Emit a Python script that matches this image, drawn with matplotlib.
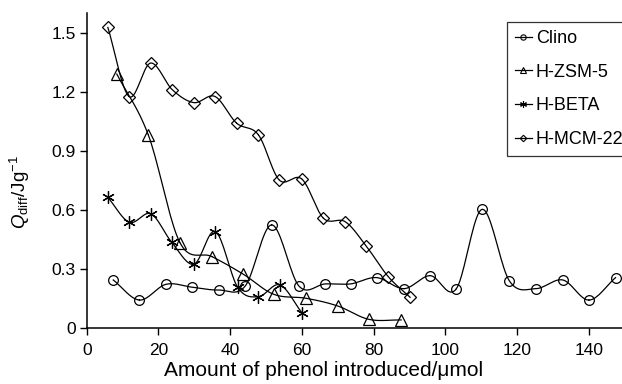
import numpy as np
import matplotlib
matplotlib.use('Agg')
import matplotlib.pyplot as plt

plt.rcParams['font.family'] = ['Liberation Sans', 'DejaVu Sans']
plt.rcParams['mathtext.fontset'] = 'custom'
plt.rcParams['mathtext.rm'] = 'Liberation Sans'
plt.rcParams['mathtext.it'] = 'Liberation Sans:italic'

# data
clino_x = [7.4, 14.7, 22.1, 29.5, 36.8, 44.2, 51.6, 59.2, 66.5, 73.6, 80.9, 88.5, 95.8,
           103.0, 110.3, 117.9, 125.3, 132.8, 140.1, 147.5]
clino_y = [0.244, 0.142, 0.222, 0.207, 0.193, 0.213, 0.524, 0.213, 0.224, 0.224, 0.256, 0.200, 0.266,
           0.197, 0.603, 0.239, 0.200, 0.244, 0.142, 0.256]

zsm_x = [8.4, 17.2, 26.0, 34.9, 43.7, 52.2, 61.2, 70.0, 78.7, 87.7]
zsm_y = [1.29, 0.98, 0.434, 0.363, 0.273, 0.171, 0.151, 0.112, 0.044, 0.041]

beta_x = [5.9, 11.9, 17.9, 23.7, 29.9, 35.9, 42.1, 47.9, 53.9, 60.0]
beta_y = [0.664, 0.537, 0.580, 0.436, 0.324, 0.490, 0.207, 0.159, 0.219, 0.078]

mcm_x = [5.9, 11.8, 17.8, 23.9, 29.9, 35.8, 41.8, 47.9, 53.7, 60.0, 66.0, 72.1, 77.9, 84.1, 90.2]
mcm_y = [1.527, 1.176, 1.346, 1.210, 1.145, 1.176, 1.041, 0.981, 0.752, 0.757, 0.558, 0.540,
         0.418, 0.261, 0.156]

yticks = [0, 0.3, 0.6, 0.9, 1.2, 1.5]
ytick_labels = ['0', '0.3', '0.6', '0.9', '1.2', '1.5']
xticks = [0, 20, 40, 60, 80, 100, 120, 140]


def smooth(x, y, n=20):
    # Catmull-Rom curve through the points (like a smoothed spreadsheet line)
    x = np.asarray(x, float); y = np.asarray(y, float)
    px = np.concatenate([[2*x[0]-x[1]], x, [2*x[-1]-x[-2]]])
    py = np.concatenate([[2*y[0]-y[1]], y, [2*y[-1]-y[-2]]])
    t = np.linspace(0, 1, n)
    xs, ys = [], []
    for i in range(1, len(px)-2):
        for p, out in ((px, xs), (py, ys)):
            p0, p1, p2, p3 = p[i-1], p[i], p[i+1], p[i+2]
            out.extend(0.5*((2*p1) + (-p0+p2)*t + (2*p0-5*p1+4*p2-p3)*t**2
                            + (-p0+3*p1-3*p2+p3)*t**3))
    return xs, ys


fig = plt.figure(figsize=(6.22, 3.84), dpi=100, facecolor='white')
ax = fig.add_axes([0.1394, 0.1458, 1-0.1394, 0.966-0.1458])

series = [
    (clino_x, clino_y, 'o', 7, 'Clino'),
    (zsm_x, zsm_y, '^', 8, 'H-ZSM-5'),
    (beta_x, beta_y, (6, 2, 0), 9, 'H-BETA'),
    (mcm_x, mcm_y, 'D', 6, 'H-MCM-22'),
]
handles = []
for x, y, m, ms, lab in series:
    sx, sy = smooth(x, y)
    ax.plot(sx, sy, color='black', lw=0.9)
    ax.plot(x, y, linestyle='none', marker=m, ms=ms, mfc='none', mec='black', mew=0.9)
    h, = ax.plot([], [], color='black', lw=0.9, marker=m, ms=ms*0.55, mfc='none',
                 mec='black', mew=0.8, label=lab)
    handles.append(h)

ax.set_xlim(0, 149.3)
ax.set_ylim(0, 1.60)
ax.set_xticks(xticks)
ax.set_yticks(yticks)
ax.set_yticklabels(ytick_labels)
ax.spines['top'].set_visible(False)
ax.spines['right'].set_visible(False)
ax.spines['left'].set_linewidth(1.1)
ax.spines['bottom'].set_linewidth(1.1)
ax.tick_params(direction='out', length=5, width=1, labelsize=12.5, colors='black')
ax.tick_params(axis='x', pad=5.5)
ax.tick_params(axis='y', pad=3)
ax.set_xlabel('Amount of phenol introduced/\u03bcmol', fontsize=15)
ax.xaxis.set_label_coords(0.442, -0.105)
ax.set_ylabel(r'$Q_{\mathrm{diff}}$/Jg$^{-1}$', fontsize=13.5)
ax.yaxis.set_label_coords(-0.1026, 0.433)

leg = fig.legend(handles=handles, loc='upper left', bbox_to_anchor=(0.8146, 0.9435),
                 frameon=True, fancybox=False, edgecolor='black', fontsize=13,
                 handlelength=0.95, handletextpad=0.22, labelspacing=0.93,
                 borderpad=0.45, borderaxespad=0)
leg.get_frame().set_linewidth(0.9)

fig.savefig('out.png', dpi=100)
